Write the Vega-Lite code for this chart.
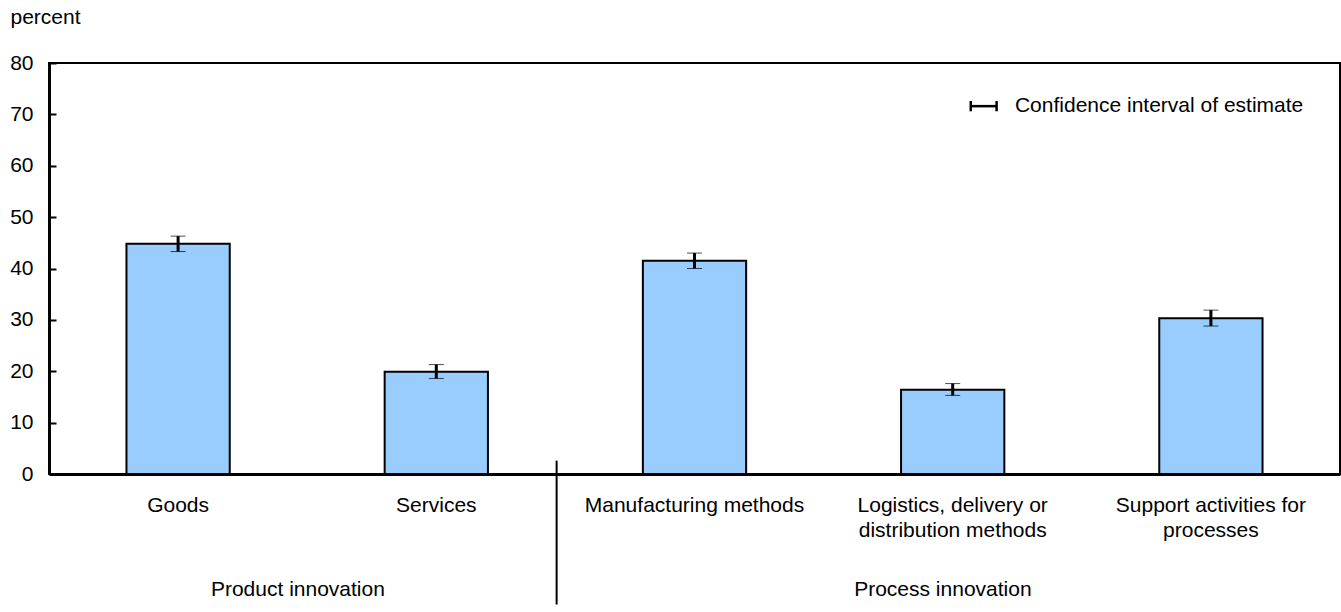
{
  "$schema": "https://vega.github.io/schema/vega-lite/v6.json",
  "width": 1291,
  "height": 411,
  "autosize": {"type": "none"},
  "padding": {"left": 49, "top": 63, "right": 1, "bottom": 138},
  "config": {
    "view": {"stroke": "black", "strokeWidth": 2},
    "font": "Liberation Sans",
    "text": {"font": "Liberation Sans", "fontSize": 21, "color": "black"},
    "axis": {
      "grid": false,
      "labelColor": "black",
      "labelFont": "Liberation Sans",
      "labelFontSize": 21,
      "titleFont": "Liberation Sans",
      "titleFontSize": 21,
      "titleFontWeight": "normal",
      "titleColor": "black",
      "domainColor": "black",
      "domainWidth": 3,
      "tickColor": "black"
    }
  },
  "data": {
    "values": [
      {"category": "Goods", "value": 44.8, "lo": 43.3, "hi": 46.3},
      {"category": "Services", "value": 19.9, "lo": 18.6, "hi": 21.3},
      {"category": "Manufacturing methods", "value": 41.5, "lo": 40.0, "hi": 43.0},
      {"category": "Logistics, delivery or|distribution methods", "value": 16.4, "lo": 15.3, "hi": 17.6},
      {"category": "Support activities for|processes", "value": 30.3, "lo": 28.8, "hi": 31.9}
    ]
  },
  "layer": [
    {
      "mark": {"type": "bar", "fill": "#99CCFF", "stroke": "black", "strokeWidth": 2},
      "encoding": {
        "x": {
          "field": "category", "type": "nominal", "sort": null,
          "scale": {"paddingInner": 0.6, "paddingOuter": 0.3},
          "axis": {"title": null, "labelAngle": 0, "ticks": false, "labelPadding": 20, "labelLimit": 400, "labelExpr": "split(datum.value, '|')", "labelLineHeight": 25}
        },
        "y": {
          "field": "value", "type": "quantitative", "title": "percent",
          "scale": {"domain": [0, 80]},
          "axis": {"title": "percent", "titleAngle": 0, "titleAlign": "left", "titleBaseline": "alphabetic", "titleX": -39, "titleY": -40, "values": [0, 10, 20, 30, 40, 50, 60, 70, 80], "tickSize": -7, "tickWidth": 2, "labelPadding": 23}
        }
      }
    },
    {
      "mark": {"type": "errorbar", "ticks": {"size": 15, "strokeWidth": 3, "color": "black"}, "rule": {"strokeWidth": 3, "color": "black"}},
      "encoding": {
        "x": {"field": "category", "type": "nominal", "sort": null, "scale": {"paddingInner": 0.6, "paddingOuter": 0.3}, "axis": null},
        "y": {"field": "lo", "type": "quantitative", "title": "percent"},
        "y2": {"field": "hi"}
      }
    },
    {
      "data": {"values": [{}]},
      "mark": {"type": "rule", "stroke": "black", "strokeWidth": 2},
      "encoding": {
        "x": {"datum": 1.966, "type": "quantitative", "scale": {"domain": [0, 5]}, "axis": null},
        "y": {"datum": 2.6, "type": "quantitative"},
        "y2": {"datum": -25.4}
      }
    },
    {
      "data": {"values": [{}]},
      "mark": {"type": "text", "text": "Product innovation", "align": "center", "baseline": "middle"},
      "encoding": {
        "x": {"datum": 0.964, "type": "quantitative", "scale": {"domain": [0, 5]}, "axis": null},
        "y": {"datum": -22.5, "type": "quantitative"}
      }
    },
    {
      "data": {"values": [{}]},
      "mark": {"type": "text", "text": "Process innovation", "align": "center", "baseline": "middle"},
      "encoding": {
        "x": {"datum": 3.462, "type": "quantitative", "scale": {"domain": [0, 5]}, "axis": null},
        "y": {"datum": -22.5, "type": "quantitative"}
      }
    },
    {
      "data": {"values": [{}]},
      "mark": {"type": "rule", "stroke": "black", "strokeWidth": 2.5},
      "encoding": {
        "x": {"datum": 3.570, "type": "quantitative", "scale": {"domain": [0, 5]}, "axis": null},
        "x2": {"datum": 3.670},
        "y": {"datum": 71.6, "type": "quantitative"}
      }
    },
    {
      "data": {"values": [{"p": 3.570}, {"p": 3.670}]},
      "mark": {"type": "rule", "stroke": "black", "strokeWidth": 2.5},
      "encoding": {
        "x": {"field": "p", "type": "quantitative", "scale": {"domain": [0, 5]}, "axis": null},
        "y": {"datum": 70.6, "type": "quantitative"},
        "y2": {"datum": 72.6}
      }
    },
    {
      "data": {"values": [{}]},
      "mark": {"type": "text", "text": "Confidence interval of estimate", "align": "left", "baseline": "middle"},
      "encoding": {
        "x": {"datum": 3.741, "type": "quantitative", "scale": {"domain": [0, 5]}, "axis": null},
        "y": {"datum": 71.6, "type": "quantitative"}
      }
    }
  ],
  "resolve": {"scale": {"x": "independent"}}
}
